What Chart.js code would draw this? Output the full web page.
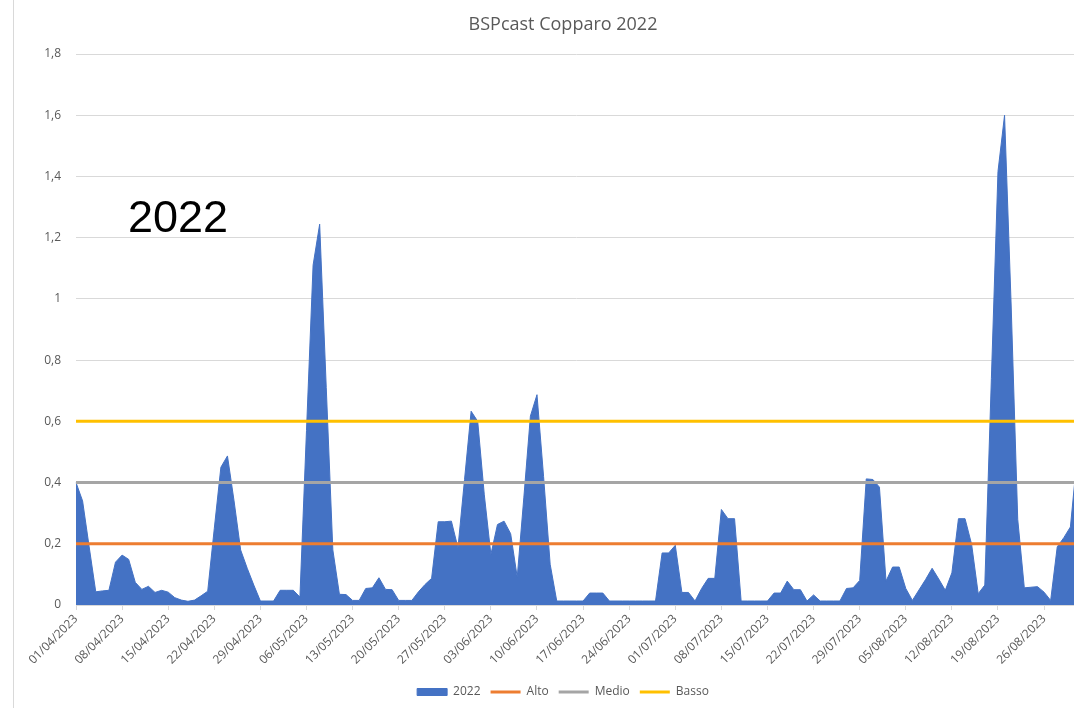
<!DOCTYPE html>
<html>
<head>
<meta charset="utf-8">
<script src="https://cdn.jsdelivr.net/npm/chart.js@4.4.1/dist/chart.umd.min.js"></script>
<style>
  html, body { margin: 0; padding: 0; background: #fff; overflow: hidden; }
  #wrap { position: relative; width: 1126px; height: 708px; }
  #leftBorder { position: absolute; left: 13px; top: 0; width: 1px; height: 708px; background: #D9D9D9; }
  canvas { position: absolute; left: 0; top: 0; }
</style>
</head>
<body>
<div id="wrap">
  <canvas id="c" width="1126" height="708"></canvas>
  <div id="leftBorder"></div>
</div>
<script>
// ---- DATA ----
const chartTitle = 'BSPcast Copparo 2022';
const overlayText = '2022';

const categories = [
  '01/04/2023','02/04/2023','03/04/2023','04/04/2023','05/04/2023','06/04/2023','07/04/2023','08/04/2023','09/04/2023','10/04/2023',
  '11/04/2023','12/04/2023','13/04/2023','14/04/2023','15/04/2023','16/04/2023','17/04/2023','18/04/2023','19/04/2023','20/04/2023',
  '21/04/2023','22/04/2023','23/04/2023','24/04/2023','25/04/2023','26/04/2023','27/04/2023','28/04/2023','29/04/2023','30/04/2023',
  '01/05/2023','02/05/2023','03/05/2023','04/05/2023','05/05/2023','06/05/2023','07/05/2023','08/05/2023','09/05/2023','10/05/2023',
  '11/05/2023','12/05/2023','13/05/2023','14/05/2023','15/05/2023','16/05/2023','17/05/2023','18/05/2023','19/05/2023','20/05/2023',
  '21/05/2023','22/05/2023','23/05/2023','24/05/2023','25/05/2023','26/05/2023','27/05/2023','28/05/2023','29/05/2023','30/05/2023','31/05/2023',
  '01/06/2023','02/06/2023','03/06/2023','04/06/2023','05/06/2023','06/06/2023','07/06/2023','08/06/2023','09/06/2023','10/06/2023',
  '11/06/2023','12/06/2023','13/06/2023','14/06/2023','15/06/2023','16/06/2023','17/06/2023','18/06/2023','19/06/2023','20/06/2023',
  '21/06/2023','22/06/2023','23/06/2023','24/06/2023','25/06/2023','26/06/2023','27/06/2023','28/06/2023','29/06/2023','30/06/2023',
  '01/07/2023','02/07/2023','03/07/2023','04/07/2023','05/07/2023','06/07/2023','07/07/2023','08/07/2023','09/07/2023','10/07/2023',
  '11/07/2023','12/07/2023','13/07/2023','14/07/2023','15/07/2023','16/07/2023','17/07/2023','18/07/2023','19/07/2023','20/07/2023',
  '21/07/2023','22/07/2023','23/07/2023','24/07/2023','25/07/2023','26/07/2023','27/07/2023','28/07/2023','29/07/2023','30/07/2023','31/07/2023',
  '01/08/2023','02/08/2023','03/08/2023','04/08/2023','05/08/2023','06/08/2023','07/08/2023','08/08/2023','09/08/2023','10/08/2023',
  '11/08/2023','12/08/2023','13/08/2023','14/08/2023','15/08/2023','16/08/2023','17/08/2023','18/08/2023','19/08/2023','20/08/2023',
  '21/08/2023','22/08/2023','23/08/2023','24/08/2023','25/08/2023','26/08/2023','27/08/2023','28/08/2023','29/08/2023','30/08/2023','31/08/2023'
];

const series2022 = [
  0.40, 0.34, 0.19, 0.043, 0.046, 0.048, 0.14,
  0.163, 0.149, 0.074, 0.051, 0.061, 0.041, 0.048,
  0.042, 0.024, 0.016, 0.012, 0.016, 0.03, 0.045,
  0.25, 0.45, 0.487, 0.34, 0.18, 0.12, 0.065,
  0.013, 0.013, 0.013, 0.048, 0.048, 0.048, 0.026,
  0.57, 1.11, 1.244, 0.71, 0.18, 0.035, 0.034,
  0.015, 0.015, 0.054, 0.056, 0.089, 0.051, 0.05,
  0.015, 0.015, 0.015, 0.043, 0.067, 0.087, 0.272,
  0.272, 0.274, 0.187, 0.41, 0.633, 0.60, 0.36,
  0.165, 0.263, 0.274, 0.233, 0.091, 0.35, 0.617,
  0.687, 0.42, 0.133, 0.013, 0.013, 0.013, 0.013,
  0.013, 0.039, 0.039, 0.039, 0.013, 0.013, 0.013,
  0.013, 0.013, 0.013, 0.013, 0.013, 0.17, 0.17,
  0.195, 0.041, 0.041, 0.013, 0.054, 0.087, 0.087,
  0.312, 0.282, 0.282, 0.013, 0.013, 0.013, 0.013,
  0.013, 0.039, 0.039, 0.078, 0.05, 0.05, 0.013,
  0.033, 0.013, 0.013, 0.013, 0.013, 0.054, 0.056,
  0.08, 0.412, 0.41, 0.385, 0.078, 0.124, 0.124,
  0.054, 0.015, 0.049, 0.083, 0.12, 0.085, 0.048,
  0.105, 0.282, 0.282, 0.198, 0.037, 0.065, 0.74,
  1.416, 1.6, 0.98, 0.28, 0.056, 0.058, 0.06,
  0.042, 0.015, 0.19, 0.22, 0.255, 0.48
];

const thresholdNames  = ['Alto', 'Medio', 'Basso'];
const thresholdValues = [0.2, 0.4, 0.6];
const thresholdColors = ['#ED7D31', '#A5A5A5', '#FFC000'];

const yTickMin = 0, yTickMax = 1.8, yTickStep = 0.2;
const xLabelEvery = 7;

// ---- CHART ----
const FONT = '"Open Sans", "Liberation Sans", sans-serif';
const TXT = '#595959';

const datasets = [{
  label: '2022',
  data: series2022,
  fill: 'origin',
  backgroundColor: '#4472C4',
  borderColor: '#4472C4',
  borderWidth: 1,
  pointRadius: 0,
  pointHoverRadius: 0,
  pointStyle: 'rect',
  tension: 0,
  order: 1
}];
thresholdNames.forEach((name, i) => {
  datasets.push({
    label: name,
    data: [
      { x: categories[0], y: thresholdValues[i] },
      { x: categories[categories.length - 1], y: thresholdValues[i] }
    ],
    fill: false,
    borderColor: thresholdColors[i],
    backgroundColor: thresholdColors[i],
    borderWidth: 3,
    pointRadius: 0,
    pointHoverRadius: 0,
    pointStyle: 'line',
    order: 0
  });
});

const overlayPlugin = {
  id: 'overlayText',
  afterLayout(chart) {
    // let the y tick labels overflow to the left of the (narrow) axis box without clipping
    chart.scales.y.left = 14;
  },
  afterDraw(chart) {
    const ctx = chart.ctx;
    ctx.save();
    ctx.font = '45px "Liberation Sans", Arial, sans-serif';
    ctx.fillStyle = '#000000';
    ctx.textAlign = 'left';
    ctx.textBaseline = 'alphabetic';
    ctx.fillText(overlayText, 128, 232);
    ctx.restore();
  }
};

new Chart(document.getElementById('c'), {
  type: 'line',
  data: { labels: categories, datasets },
  plugins: [overlayPlugin],
  options: {
    responsive: false,
    animation: false,
    devicePixelRatio: 1,
    layout: { padding: { left: 49, right: 49, top: 0, bottom: 0 } },
    plugins: {
      title: {
        display: true,
        text: chartTitle,
        color: TXT,
        font: { family: FONT, size: 18, weight: 'normal' },
        padding: { top: 14, bottom: 18.4 }
      },
      legend: {
        position: 'bottom',
        labels: {
          usePointStyle: true,
          pointStyleWidth: 30,
          boxHeight: 7,
          color: TXT,
          font: { family: FONT, size: 12 },
          padding: 10,
          sort: (a, b) => a.datasetIndex - b.datasetIndex
        }
      },
      tooltip: { enabled: false }
    },
    scales: {
      x: {
        type: 'category',
        offset: false,
        grid: {
          drawOnChartArea: false,
          drawTicks: true,
          tickLength: 5,
          tickColor: (c) => (c.index % xLabelEvery === 0 ? '#D9D9D9' : 'rgba(0,0,0,0)')
        },
        border: { color: '#D9D9D9', width: 1 },
        ticks: {
          autoSkip: false,
          maxRotation: 45,
          minRotation: 45,
          padding: 2,
          color: TXT,
          font: { family: FONT, size: 12 },
          callback: function (value, index) {
            return index % xLabelEvery === 0 ? this.getLabelForValue(value) : '';
          }
        },
        afterFit: (s) => { s.height = 71; }
      },
      y: {
        min: yTickMin,
        max: yTickMax,
        grid: { color: '#D9D9D9', lineWidth: 1, drawTicks: false },
        border: { display: false },
        ticks: {
          stepSize: yTickStep,
          padding: 15,
          color: TXT,
          font: { family: FONT, size: 12 },
          callback: (v) => String(Number(v.toFixed(1))).replace('.', ',')
        },
        afterFit: (s) => { s.width = 27; }
      }
    }
  }
});
</script>
</body>
</html>
